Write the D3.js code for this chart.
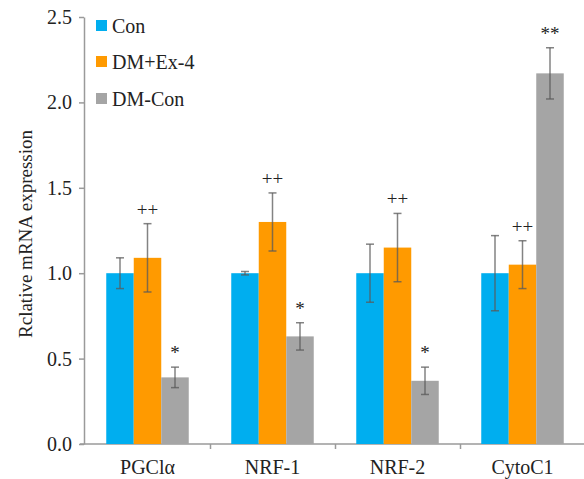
<!DOCTYPE html>
<html>
<head>
<meta charset="utf-8">
<script src="https://cdnjs.cloudflare.com/ajax/libs/d3/7.8.5/d3.min.js"></script>
<style>
  body { margin: 0; background: #fff; }
</style>
</head>
<body>
<div class="chart"></div>
<script>
// data
var categories = ["PGCl\u03b1", "NRF-1", "NRF-2", "CytoC1"];
var seriesNames = ["Con", "DM+Ex-4", "DM-Con"];
var conValues = [1.00, 1.00, 1.00, 1.00];
var conErrors = [0.09, 0.01, 0.17, 0.22];
var exValues = [1.09, 1.30, 1.15, 1.05];
var exErrors = [0.20, 0.17, 0.20, 0.14];
var dmValues = [0.39, 0.63, 0.37, 2.17];
var dmErrors = [0.06, 0.08, 0.08, 0.15];
var exMarks = ["++", "++", "++", "++"];
var dmMarks = ["*", "*", "*", "**"];
var yTicks = [0, 0.5, 1.0, 1.5, 2.0, 2.5];

var colors = ["#00aeef", "#ff9a00", "#a5a5a5"];
var serif = "'Liberation Serif', 'Times New Roman', Times, serif";

var svgWidth = 584;
var svgHeight = 479;

var svg = d3.select(".chart")
    .append("svg")
    .attr("width", svgWidth)
    .attr("height", svgHeight)
    .attr("font-family", serif);

// scales
var yScale = d3.scaleLinear().domain([0, 2.5]).range([444, 17]);

var x0 = d3.scaleBand()
    .domain(categories)
    .range([85, 585])
    .paddingInner(0.34)
    .paddingOuter(0.17);

var x1 = d3.scaleBand()
    .domain(seriesNames)
    .range([0, x0.bandwidth()]);

var series = [
    { name: seriesNames[0], values: conValues, errors: conErrors, marks: null },
    { name: seriesNames[1], values: exValues, errors: exErrors, marks: exMarks },
    { name: seriesNames[2], values: dmValues, errors: dmErrors, marks: dmMarks }
];

// axes
var leftAxis = d3.axisLeft(yScale)
    .tickValues(yTicks)
    .tickFormat(d3.format(".1f"))
    .tickSize(5)
    .tickPadding(7)
    .tickSizeOuter(0);

var yAxisG = svg.append("g")
    .attr("transform", "translate(84,0)")
    .call(leftAxis)
    .attr("font-family", serif)
    .attr("font-size", 20);

yAxisG.selectAll("text").attr("fill", "#222");

// group separators on the x axis
var step = x0.step();
var sepScale = d3.scaleLinear()
    .domain([0, 4])
    .range([x0(categories[0]) - step * 0.17, x0(categories[0]) - step * 0.17 + step * 4]);

var bottomAxis = d3.axisBottom(sepScale)
    .tickValues([1, 2, 3, 4])
    .tickFormat("")
    .tickSize(5)
    .tickSizeOuter(0);

var xAxisG = svg.append("g")
    .attr("transform", "translate(0," + yScale(0) + ")")
    .call(bottomAxis);

xAxisG.select(".domain").attr("d", "M80,0H584");

svg.selectAll(".domain, .tick line")
    .attr("stroke", "#9a9a9a")
    .attr("stroke-width", 1.5);

// category labels
svg.selectAll(".cat-label")
    .data(categories)
    .enter()
    .append("text")
    .attr("class", "cat-label")
    .attr("x", function(d) { return x0(d) + x0.bandwidth() / 2; })
    .attr("y", 474)
    .attr("text-anchor", "middle")
    .attr("font-family", serif)
    .attr("font-size", 20)
    .attr("fill", "#222")
    .text(function(d) { return d; });

// y-axis title
svg.append("text")
    .attr("transform", "translate(32,234) rotate(-90)")
    .attr("text-anchor", "middle")
    .attr("font-family", serif)
    .attr("font-size", 19)
    .attr("fill", "#222")
    .text("Rclative mRNA expression");

// bars
series.forEach(function(s, si) {
    var g = svg.append("g");

    g.selectAll("rect")
        .data(categories)
        .enter()
        .append("rect")
        .attr("x", function(d) { return x0(d) + x1(s.name); })
        .attr("y", function(d, i) { return yScale(s.values[i]); })
        .attr("width", x1.bandwidth())
        .attr("height", function(d, i) { return yScale(0) - yScale(s.values[i]); })
        .attr("fill", colors[si]);

    // error bars
    var cx = function(d) { return x0(d) + x1(s.name) + x1.bandwidth() / 2; };

    g.selectAll(".err")
        .data(categories)
        .enter()
        .append("line")
        .attr("x1", cx)
        .attr("x2", cx)
        .attr("y1", function(d, i) { return yScale(s.values[i] + s.errors[i]); })
        .attr("y2", function(d, i) { return yScale(s.values[i] - s.errors[i]); })
        .attr("stroke", "#5a5a5a")
        .attr("stroke-opacity", 0.75)
        .attr("stroke-width", 1.5);

    [1, -1].forEach(function(sign) {
        g.selectAll(".cap" + sign)
            .data(categories)
            .enter()
            .append("line")
            .attr("x1", function(d) { return cx(d) - 4; })
            .attr("x2", function(d) { return cx(d) + 4; })
            .attr("y1", function(d, i) { return yScale(s.values[i] + sign * s.errors[i]); })
            .attr("y2", function(d, i) { return yScale(s.values[i] + sign * s.errors[i]); })
            .attr("stroke", "#5a5a5a")
            .attr("stroke-opacity", 0.75)
            .attr("stroke-width", 1.5);
    });

    // significance marks
    if (s.marks) {
        g.selectAll(".mark")
            .data(categories)
            .enter()
            .append("text")
            .attr("x", cx)
            .attr("y", function(d, i) { return yScale(s.values[i] + s.errors[i]) - 8; })
            .attr("text-anchor", "middle")
            .attr("font-family", serif)
            .attr("font-size", 19)
            .attr("fill", "#222")
            .text(function(d, i) { return s.marks[i]; });
    }
});

// legend
var legend = svg.append("g").attr("transform", "translate(96,0)");
var legendY = [26, 62, 99];

seriesNames.forEach(function(name, i) {
    legend.append("rect")
        .attr("x", 0)
        .attr("y", legendY[i] - 6)
        .attr("width", 11)
        .attr("height", 11)
        .attr("fill", colors[i]);
    legend.append("text")
        .attr("x", 16)
        .attr("y", legendY[i] + 7)
        .attr("font-family", serif)
        .attr("font-size", 20)
        .attr("fill", "#222")
        .text(name);
});
</script>
</body>
</html>
